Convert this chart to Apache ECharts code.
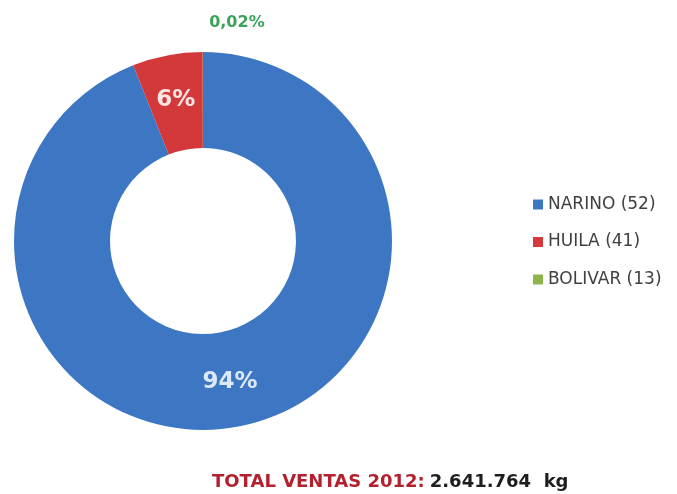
<!DOCTYPE html>
<html>
<head>
<meta charset="utf-8">
<script src="https://cdn.jsdelivr.net/npm/echarts@6/dist/echarts.min.js"></script>
<style>
html,body{margin:0;padding:0;background:#fff;}
#chart{width:677px;height:494px;}
</style>
</head>
<body>
<div id="chart"></div>
<script>
const categories = ['NARINO (52)', 'HUILA (41)', 'BOLIVAR (13)'];
const shareValues = [93.98, 6.00, 0.02];
const shareLabels = ['94%', '6%', '0,02%'];
const sliceColors = ['#3d77c4', '#d3393a', '#8db54b'];
const totalLabel = 'TOTAL VENTAS 2012:';
const totalValue = '2.641.764  kg';

const chart = echarts.init(document.getElementById('chart'), null, {renderer: 'canvas'});

const labelStyles = [
  {color: '#dce8f7', fontSize: 23},
  {color: '#fbe6e4', fontSize: 23},
  {color: '#3ba35c', fontSize: 16}
];

const pieData = categories.map((name, i) => ({
  name: name,
  value: shareValues[i],
  itemStyle: {color: sliceColors[i]},
  label: Object.assign({
    show: true,
    position: 'inside',
    formatter: shareLabels[i],
    fontFamily: 'DejaVu Sans',
    fontWeight: 'bold'
  }, labelStyles[i])
}));

chart.setOption({
  animation: false,
  backgroundColor: '#ffffff',
  title: {
    text: '{a|' + totalLabel + '} {b|' + totalValue + '}',
    left: 207,
    top: 468,
    textStyle: {
      rich: {
        a: {fontFamily: 'DejaVu Sans', fontWeight: 'bold', fontSize: 18, color: '#b3202e'},
        b: {fontFamily: 'DejaVu Sans', fontWeight: 'bold', fontSize: 18, color: '#1e1e1e'}
      }
    }
  },
  legend: {
    orient: 'vertical',
    left: 528,
    top: 190,
    itemWidth: 10,
    itemHeight: 10,
    itemGap: 18.5,
    icon: 'rect',
    data: categories,
    textStyle: {fontFamily: 'DejaVu Sans', fontSize: 17, color: '#404040', lineHeight: 19}
  },
  series: [{
    type: 'pie',
    center: [203, 241],
    radius: [93, 189],
    startAngle: 90,
    clockwise: true,
    avoidLabelOverlap: false,
    labelLine: {show: false},
    data: pieData,
    labelLayout: function (params) {
      if (params.dataIndex === 2) {
        return {dx: 34, dy: -74};
      }
      return {};
    }
  }]
});
</script>
</body>
</html>
